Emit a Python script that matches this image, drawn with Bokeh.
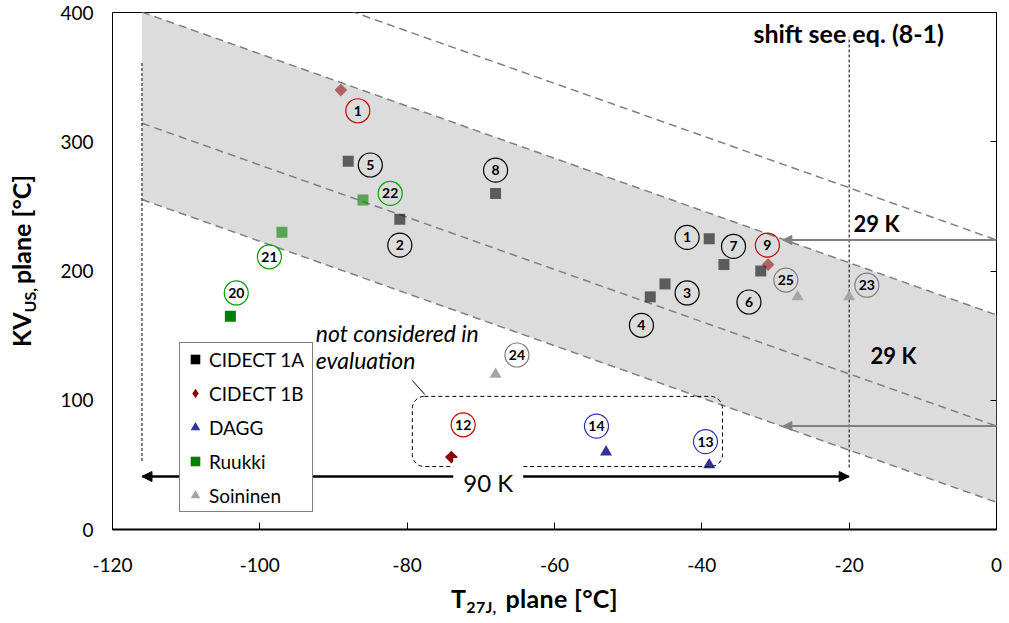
import math
from bokeh.plotting import figure
from bokeh.layouts import column, row
from bokeh.models import (Range1d, LinearAxis, FixedTicker, Legend, LegendItem, Label,
                          Arrow, NormalHead, BoxAnnotation, ColumnDataSource, Div)
from bokeh.core.properties import value
from bokeh.embed import file_html
from bokeh.resources import INLINE

# ---------------- data ----------------
cidect1a_x = [-88, -81, -68, -47, -45, -39, -37, -32]
cidect1a_y = [285, 240, 260, 180, 190, 225, 205, 200]
cidect1b_x = [-89, -31, -74]
cidect1b_y = [340, 205, 56]
dagg_x = [-53, -39]
dagg_y = [60, 50]
ruukki_x = [-104, -97, -86]
ruukki_y = [165, 230, 255]
soininen_x = [-68, -27, -20]
soininen_y = [120, 180, 180]

label_text = ["1", "5", "22", "8", "2", "21", "20", "1", "7", "9", "25", "23",
              "3", "6", "4", "24", "12", "14", "13"]
label_x = [-86.7, -85.0, -82.3, -68.0, -81.0, -98.7, -103.2, -42.0, -35.7, -31.1,
           -28.6, -17.6, -42.0, -33.6, -48.2, -65.1, -72.4, -54.3, -39.5]
label_y = [324, 282, 260, 278, 220, 211, 183, 226, 219, 220, 193, 189, 183, 176,
           158, 135, 81, 80, 68]
label_series = ["CIDECT 1B", "CIDECT 1A", "Ruukki", "CIDECT 1A", "CIDECT 1A", "Ruukki",
                "Ruukki", "CIDECT 1A", "CIDECT 1A", "CIDECT 1B", "Soininen", "Soininen",
                "CIDECT 1A", "CIDECT 1A", "CIDECT 1A", "Soininen", "CIDECT 1B", "DAGG", "DAGG"]

band_slope = -2.02
line_at_zero = [224, 166, 80, 21]      # KV value at T27J = 0 of the four dashed lines
band_left = -116
vline_x = [-116, -20]
vline_y = [[53, 362], [48, 381]]
shift_K = 29
span_y = 41

x_ticks = [-120, -100, -80, -60, -40, -20, 0]
y_ticks = [0, 100, 200, 300, 400]

x_title_main, x_title_sub, x_title_rest = "T", "27J,", "plane [°C]"
y_title_main, y_title_sub, y_title_rest = "KV", "US,", "plane [°C]"

# ---------------- figure ----------------
FONT = "Lato"
YDIV_W = 40
FIG_H = 12 + 517 + 60
p = figure(x_range=Range1d(-120, 0), y_range=Range1d(0, 400),
           frame_width=884, frame_height=517,
           min_border_left=112 - YDIV_W, min_border_right=12, min_border_top=12,
           min_border_bottom=60, output_backend="svg", toolbar_location=None, margin=0)
p.grid.visible = False
p.outline_line_color = "black"
p.outline_line_width = 1
p.background_fill_color = "white"

xa = p.xaxis[0]
xa.ticker = FixedTicker(ticks=x_ticks)
xa.major_label_overrides = {t: str(t) for t in x_ticks}
xa.major_tick_in = 7
xa.major_tick_out = 0
xa.minor_tick_line_color = None
xa.axis_line_width = 2
xa.axis_line_color = "black"
xa.major_label_text_font = FONT
xa.major_label_text_font_size = "19px"
xa.major_label_text_color = "black"
xa.major_label_standoff = 28

ya = p.yaxis[0]
ya.ticker = FixedTicker(ticks=y_ticks)
ya.major_tick_line_color = None
ya.minor_tick_line_color = None
ya.axis_line_color = None
ya.major_label_text_font = FONT
ya.major_label_text_font_size = "19px"
ya.major_label_text_color = "black"
ya.major_label_standoff = 13

ra = LinearAxis(ticker=FixedTicker(ticks=y_ticks), major_tick_in=6, major_tick_out=0,
                minor_tick_line_color=None, axis_line_color=None,
                major_label_overrides={t: "" for t in y_ticks},
                major_label_text_font_size="1px")
p.add_layout(ra, "right")

# ---------------- scatter band ----------------
def kv_line(c, x):
    return c + band_slope * x

bx = [band_left, 0]
p.varea(x=bx, y1=[kv_line(line_at_zero[3], v) for v in bx],
        y2=[kv_line(line_at_zero[1], v) for v in bx], fill_color="#dcdcdc")
for c in line_at_zero:
    p.line(x=bx, y=[kv_line(c, v) for v in bx], line_color="#808080",
           line_width=1.5, line_dash="8 5")

for vx, (y0, y1) in zip(vline_x, vline_y):
    p.line(x=[vx, vx], y=[y0, y1], line_color="black", line_width=1, line_dash="3 2")

# shift arrows
for c in (line_at_zero[0], line_at_zero[2]):
    p.add_layout(Arrow(x_start=0.5, y_start=c, x_end=-shift_K, y_end=c,
                       line_color="#808080", line_width=2,
                       end=NormalHead(size=9, fill_color="#808080", line_color="#808080")))

# not-considered box
p.add_layout(BoxAnnotation(left=-79.3, right=-37.2, bottom=48.7, top=103,
                           fill_alpha=0, line_color="black", line_alpha=1, line_width=1,
                           line_dash="4 3", border_radius=12))
p.line(x=[-79.3, -77.6], y=[115.3, 104.4], line_color="black", line_width=1)

# ---------------- data points ----------------
series = [
    ("CIDECT 1A", cidect1a_x, cidect1a_y, "square", "square", 0.0, 11, "black", [0.58] * 8),
    ("CIDECT 1B", cidect1b_x, cidect1b_y, "square", "diamond", math.pi / 4, 9, "#8b0000",
     [0.55, 0.55, 1.0]),
    ("DAGG", dagg_x, dagg_y, "triangle", "triangle", 0.0, 12, "#333399", [1.0, 1.0]),
    ("Ruukki", ruukki_x, ruukki_y, "square", "square", 0.0, 11, "#008000", [1.0, 0.6, 0.6]),
    ("Soininen", soininen_x, soininen_y, "triangle", "triangle", 0.0, 12, "#a5a5a5",
     [1.0, 1.0, 1.0]),
]
items = []
for name, xs, ys, mk, leg_mk, ang, sz, col, alphas in series:
    s = ColumnDataSource(dict(x=xs, y=ys, a=alphas))
    p.scatter("x", "y", source=s, marker=mk, angle=ang, size=sz, fill_color=col,
              line_color=None, fill_alpha="a")
    # legend key: same data, zero size on the plot, full colour in the key
    rl = p.scatter("x", "y", source=s, marker=leg_mk, size=0, fill_color=col,
                   line_color=None)
    items.append(LegendItem(label=name, renderers=[rl]))

# circled numbers
ring_colors = {"CIDECT 1A": "black", "CIDECT 1B": "#c00000", "DAGG": "#3333aa",
               "Ruukki": "#00a000", "Soininen": "#808080"}
lab_src = ColumnDataSource(dict(x=label_x, y=label_y, t=label_text,
                                c=[ring_colors[s] for s in label_series]))
p.scatter("x", "y", source=lab_src, marker="circle", size=24, fill_color=None,
          line_color="c", line_width=1.2)
p.text("x", "y", text="t", source=lab_src, text_font=value(FONT), text_font_size="14px",
       text_font_style="bold", text_align="center", text_baseline="middle", text_color="black")

# ---------------- legend ----------------
legend = Legend(items=items, location=(67, 17), margin=0, padding=3, spacing=8,
                glyph_width=24, glyph_height=26, label_standoff=2, label_width=100,
                label_height=26, label_text_font=FONT, label_text_font_size="19px",
                label_text_color="black", border_line_color="black", border_line_width=1,
                background_fill_color="white", background_fill_alpha=1)
p.add_layout(legend)

# 90 K span arrow (over legend)
span_line = p.line(x=vline_x, y=[span_y, span_y], line_color="black", line_width=2)
span_line.level = "overlay"
p.add_layout(Arrow(x_start=vline_x[0], x_end=vline_x[1], y_start=span_y, y_end=span_y,
                   line_color="black", line_width=2, level="overlay",
                   start=NormalHead(size=10, fill_color="black", line_color="black"),
                   end=NormalHead(size=10, fill_color="black", line_color="black")))
p.add_layout(Label(x=-69.0, y=span_y, text="90 K", text_font=FONT, text_font_size="24px",
                   text_color="black", text_align="center", text_baseline="middle",
                   y_offset=-6, background_fill_color="white", padding=10, level="overlay"))

# ---------------- texts ----------------
def dlabel(x, y, text, size, style="bold"):
    p.add_layout(Label(x=x, y=y, text=text, text_font=FONT, text_font_size=size,
                       text_font_style=style, text_color="black", text_baseline="middle"))

dlabel(-33.0, 384, "shift see eq. (8-1)", "25px")
dlabel(-19.4, 237, "29 K", "22px")
dlabel(-17.1, 135, "29 K", "22px")
dlabel(-92.4, 152, "not considered in", "23px", "italic")
dlabel(-92.4, 131, "evaluation", "23px", "italic")

# ---------------- axis titles (with subscripts) ----------------
base = ("font-family:Lato; font-weight:bold; font-size:25px; line-height:30px; "
        "color:black; white-space:nowrap;")
sub_y = "font-size:16px; vertical-align:-5px; margin-right:4px;"
sub_x = "font-size:16px; vertical-align:-5px; margin-right:9px;"

y_html = (f'<div style="{base} box-sizing:border-box; width:{FIG_H}px; height:{YDIV_W}px; '
          f'padding-left:242px; padding-top:6px; transform-origin:0 0; '
          f'transform:translate(0px,{FIG_H}px) rotate(-90deg);">'
          f'{y_title_main}<span style="{sub_y}">{y_title_sub}</span>{y_title_rest}</div>')
ydiv = Div(text=y_html, width=YDIV_W, height=FIG_H, margin=0)

x_html = (f'<div style="{base} padding-left:451px; margin-top:-6px; letter-spacing:0.3px;">'
          f'{x_title_main}<span style="{sub_x}">{x_title_sub}</span>{x_title_rest}</div>')
xdiv = Div(text=x_html, width=YDIV_W + 968, height=32, margin=0)

layout = column(row(ydiv, p, spacing=0, margin=0), xdiv, spacing=0, margin=0)

open("out.html", "w").write(file_html(layout, INLINE))
